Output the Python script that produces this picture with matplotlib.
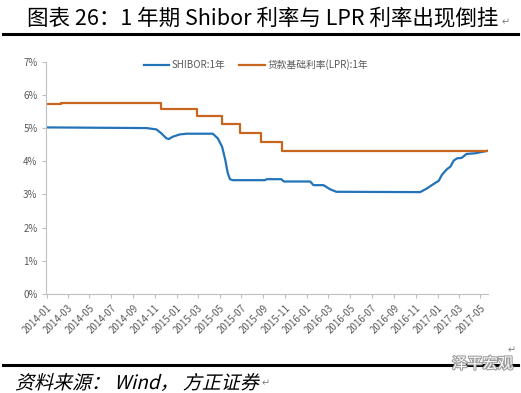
import pandas as pd
import matplotlib
matplotlib.use('Agg')
import matplotlib.pyplot as plt
import matplotlib.dates as mdates
import matplotlib.patheffects as pe
from matplotlib.lines import Line2D
from matplotlib.textpath import TextPath
from matplotlib.patches import PathPatch
from matplotlib.font_manager import FontProperties
from matplotlib.transforms import Affine2D, IdentityTransform

plt.rcParams['font.family'] = ['Noto Sans CJK SC', 'DejaVu Sans']

# 1Y Shibor (%)
shibor_dates = ['2014-01-01', '2014-10-08', '2014-11-05', '2014-11-19', '2014-12-03',
                '2014-12-10', '2014-12-21', '2015-01-10', '2015-01-29', '2015-04-12',
                '2015-04-26', '2015-05-08', '2015-05-17', '2015-05-24', '2015-05-30',
                '2015-06-07', '2015-09-05', '2015-09-10', '2015-10-21', '2015-10-28',
                '2016-01-10', '2016-01-19', '2016-02-16', '2016-03-05', '2016-03-23',
                '2016-11-13', '2016-12-02', '2016-12-20', '2017-01-04', '2017-01-13',
                '2017-01-27', '2017-02-06', '2017-02-15', '2017-02-25', '2017-03-09',
                '2017-03-23', '2017-04-16', '2017-05-09', '2017-05-23']
shibor_vals = [5.02, 5.00, 4.96, 4.84, 4.69,
               4.67, 4.74, 4.81, 4.83, 4.83,
               4.69, 4.44, 4.04, 3.64, 3.46,
               3.43, 3.43, 3.46, 3.46, 3.39,
               3.39, 3.28, 3.28, 3.16, 3.08,
               3.07, 3.18, 3.31, 3.41, 3.59,
               3.76, 3.84, 4.02, 4.09, 4.10,
               4.22, 4.24, 4.29, 4.32]

# 1Y LPR (%), step changes
lpr_dates = ['2014-01-01', '2014-02-12', '2014-11-19', '2015-02-28', '2015-05-08',
             '2015-06-26', '2015-08-24', '2015-10-24', '2017-05-23']
lpr_vals = [5.73, 5.77, 5.56, 5.36, 5.12, 4.84, 4.58, 4.32, 4.32]

labels = ['SHIBOR:1年', '贷款基础利率(LPR):1年']
title = '图表 26：1 年期 Shibor 利率与 LPR 利率出现倒挂'
source = '资料来源： Wind， 方正证券'

W, H = 521, 393
fig = plt.figure(figsize=(W / 100, H / 100), dpi=100)
ax = fig.add_axes([46.5 / W, 1 - 294 / H, (488.3 - 46.5) / W, (294 - 61.7) / H])

ax.plot(pd.to_datetime(shibor_dates), shibor_vals, color='#2273b9', lw=1.6, label=labels[0])
ax.plot(pd.to_datetime(lpr_dates), lpr_vals, color='#c8651f', lw=1.6,
        drawstyle='steps-post', label=labels[1])

ax.set_ylim(0, 7)
ax.set_yticks(range(8))
ax.set_yticklabels([f'{i}%' for i in range(8)])
ax.set_xlim(pd.Timestamp('2014-01-01'), pd.Timestamp('2017-05-23'))
ax.xaxis.set_major_locator(mdates.MonthLocator(bymonth=[1, 3, 5, 7, 9, 11]))
ax.xaxis.set_major_formatter(mdates.DateFormatter('%Y-%m'))

for s in ['top', 'right']:
    ax.spines[s].set_visible(False)
for s in ['left', 'bottom']:
    ax.spines[s].set_color('#bfbfbf')
    ax.spines[s].set_linewidth(0.8)
ax.tick_params(colors='#bfbfbf', labelcolor='#595959', labelsize=7, length=3, width=0.8)
for lab in ax.get_xticklabels():
    lab.set_rotation(45)
    lab.set_ha('right')
    lab.set_rotation_mode('anchor')

fig.legend(loc='center', bbox_to_anchor=(256 / W, 1 - 65 / H), ncol=2, frameon=False,
           fontsize=7, handlelength=2.6, handletextpad=0.3, columnspacing=1.4,
           labelcolor='#595959')

# title and rules
fig.text(27 / W, 1 - 18 / H, title, fontsize=15.5, va='center', ha='left')
fig.text(502 / W, 1 - 22 / H, '↵', fontsize=7, va='center', color='#808080')
fig.add_artist(Line2D([3 / W, 518 / W], [1 - 34 / H] * 2, transform=fig.transFigure,
                      color='black', lw=2.2))
fig.add_artist(Line2D([3 / W, 518 / W], [1 - 365 / H] * 2, transform=fig.transFigure,
                      color='black', lw=2.2))
fig.text(508 / W, 1 - 350 / H, '↵', fontsize=7, va='center', color='#808080')

# slanted source line (the original is set in italics)
tp = TextPath((0, 0), source, size=19, prop=FontProperties(family=['Noto Sans CJK SC']))
src = PathPatch(tp, color='black', lw=0,
                transform=Affine2D().skew_deg(14, 0).translate(15, H - 389) + IdentityTransform())
fig.add_artist(src)
fig.text(262 / W, 1 - 383 / H, '↵', fontsize=7, va='center', color='#808080')
fig.text(452 / W, 1 - 364 / H, '泽平宏观', fontsize=11, va='center', ha='left', color='white',
         path_effects=[pe.withStroke(linewidth=1.5, foreground='#9a9a9a')])

fig.savefig('out.png', dpi=100)
